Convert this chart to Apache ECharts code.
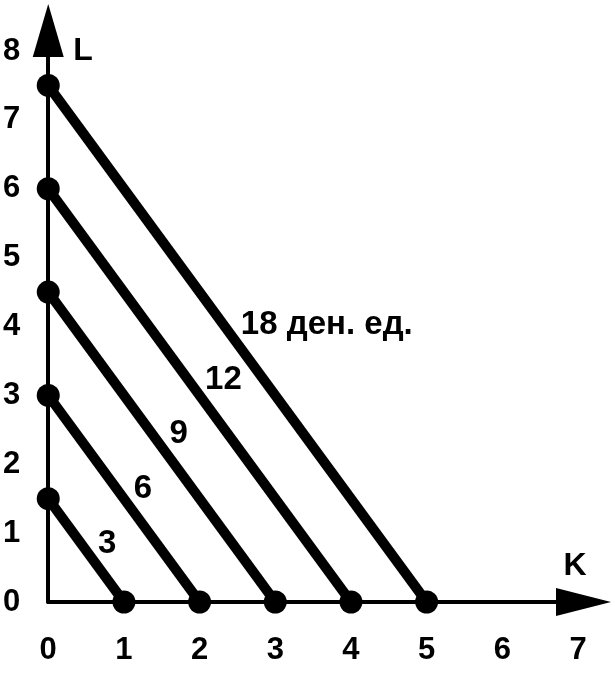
<!DOCTYPE html>
<html>
<head>
<meta charset="utf-8">
<script src="https://cdn.jsdelivr.net/npm/echarts@6/dist/echarts.min.js"></script>
<style>
html,body{margin:0;padding:0;background:#fff;}
#chart{width:615px;height:682px;}
</style>
</head>
<body>
<div id="chart"></div>
<script>
// Isocost lines: intercepts on K axis and L axis
const kIntercepts = [1, 2, 3, 4, 5];
const lIntercepts = [1.5, 3, 4.5, 6, 7.5];
const costLabels = ['3', '6', '9', '12', '18 ден. ед.'];
const xTicks = [0, 1, 2, 3, 4, 5, 6, 7];
const yTicks = [0, 1, 2, 3, 4, 5, 6, 7, 8];
const xName = 'K';
const yName = 'L';

const FONT = '"Liberation Sans", Arial, sans-serif';
const labelFrac = 0.472; // position along each line where its label sits

const lineSeries = kIntercepts.map((k, i) => ({
  type: 'line',
  name: costLabels[i],
  data: [[0, lIntercepts[i]], [k, 0]],
  symbol: 'circle',
  symbolSize: 23,
  clip: false,
  lineStyle: { color: '#000', width: 10 },
  itemStyle: { color: '#000' },
  z: 3
}));

const labelSeries = {
  type: 'scatter',
  symbolSize: 0,
  clip: false,
  silent: true,
  itemStyle: { opacity: 1, color: '#000' },
  data: kIntercepts.map((k, i) => ({
    value: [labelFrac * k, (1 - labelFrac) * lIntercepts[i]],
    name: costLabels[i]
  })),
  label: {
    show: true,
    position: 'right',
    distance: 14,
    offset: [0, -4],
    formatter: p => p.name,
    color: '#000',
    opacity: 1,
    fontFamily: FONT,
    fontWeight: 'bold',
    fontSize: 33
  },
  z: 4
};

const chart = echarts.init(document.getElementById('chart'), null, { renderer: 'canvas' });
chart.setOption({
  animation: false,
  backgroundColor: '#fff',
  grid: { left: 48, right: 37, top: 51, bottom: 80, containLabel: false },
  xAxis: {
    type: 'value',
    min: xTicks[0],
    max: xTicks[xTicks.length - 1],
    interval: 1,
    name: xName,
    nameLocation: 'end',
    nameGap: -3,
    nameTextStyle: {
      color: '#000', fontFamily: FONT, fontWeight: 'bold', fontSize: 32,
      align: 'center', verticalAlign: 'bottom', padding: [0, 0, 20, 0]
    },
    axisLine: {
      show: true, onZero: false,
      lineStyle: { color: '#000', width: 4 },
      symbol: ['none', 'triangle'],
      symbolSize: [28, 55],
      symbolOffset: [0, 5.5]
    },
    axisTick: { show: false },
    splitLine: { show: false },
    axisLabel: {
      color: '#000', fontFamily: FONT, fontWeight: 'bold', fontSize: 31, margin: 33
    }
  },
  yAxis: {
    type: 'value',
    min: yTicks[0],
    max: yTicks[yTicks.length - 1],
    interval: 1,
    name: yName,
    nameLocation: 'end',
    nameGap: 0,
    nameTextStyle: {
      color: '#000', fontFamily: FONT, fontWeight: 'bold', fontSize: 32,
      align: 'left', verticalAlign: 'middle', padding: [0, 0, 0, 25]
    },
    axisLine: {
      show: true, onZero: false,
      lineStyle: { color: '#000', width: 4 },
      symbol: ['none', 'triangle'],
      symbolSize: [31, 53],
      symbolOffset: [0, 20.5]
    },
    axisTick: { show: false },
    splitLine: { show: false },
    axisLabel: {
      color: '#000', fontFamily: FONT, fontWeight: 'bold', fontSize: 31, margin: 28
    }
  },
  series: [...lineSeries, labelSeries]
});
</script>
</body>
</html>
